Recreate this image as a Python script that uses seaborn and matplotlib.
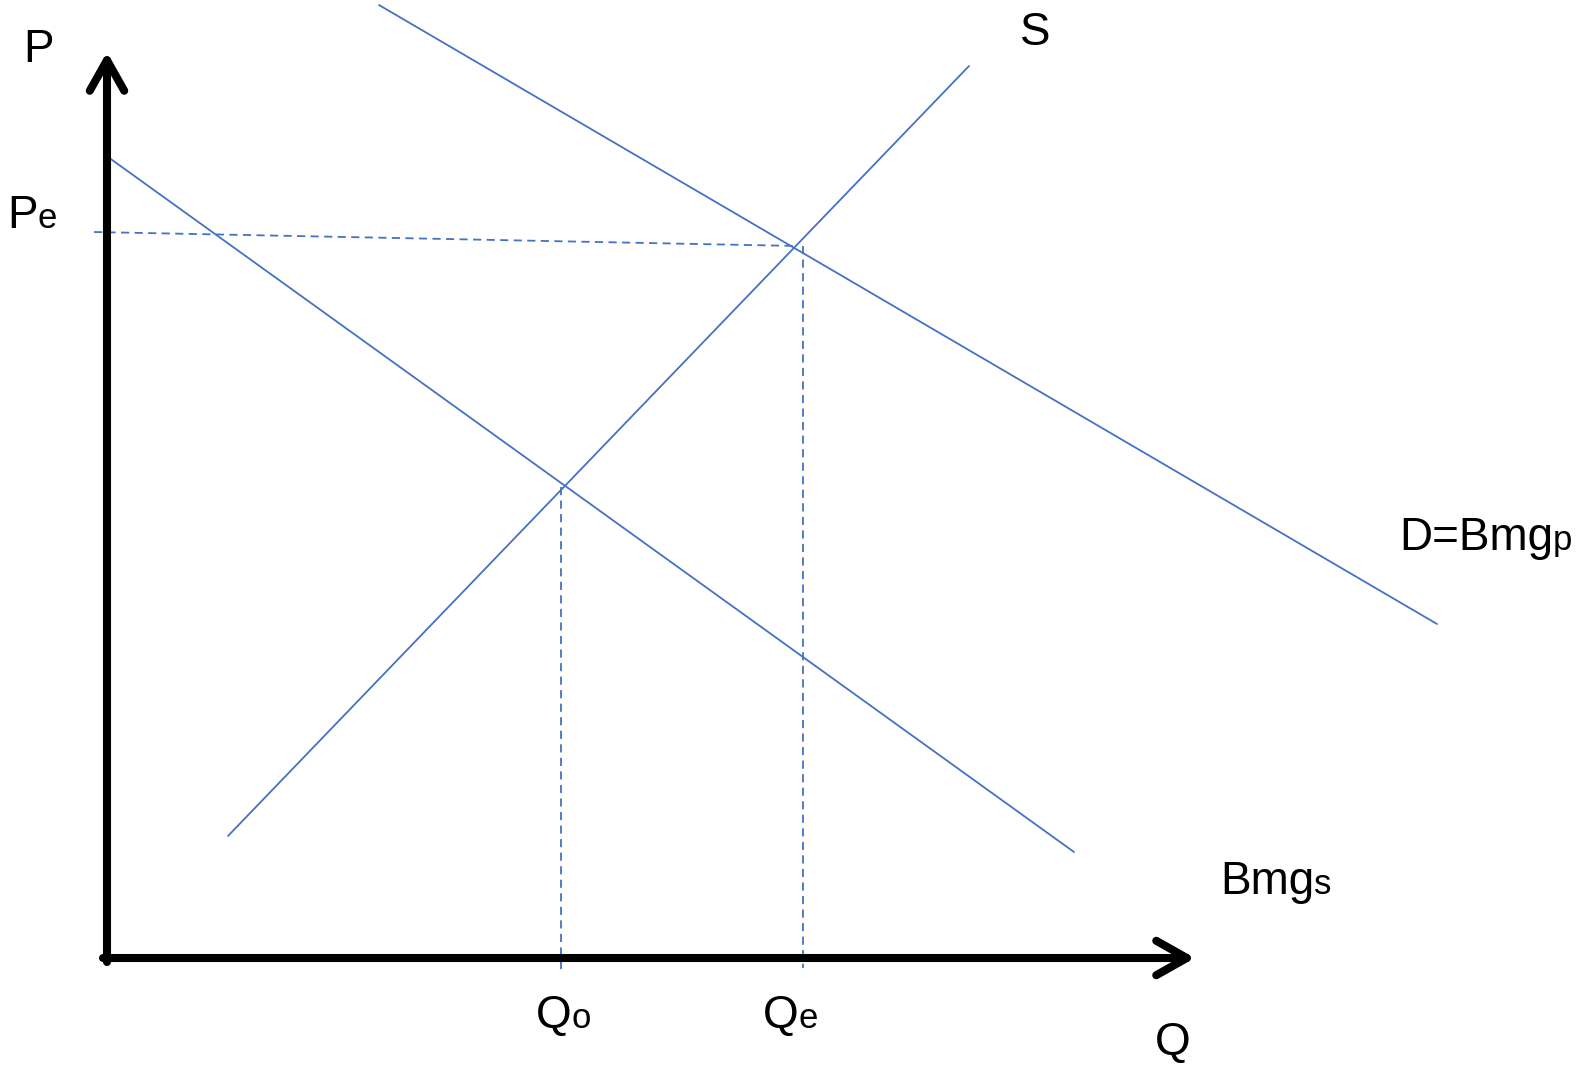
import matplotlib
matplotlib.use("Agg")
import matplotlib.pyplot as plt
import seaborn as sns
import pandas as pd

# curves (Q, P) endpoints, origin at the corner of the axes
curve_names = ["D", "D", "Bmg_s", "Bmg_s", "S", "S"]
curve_q = [272, 1330, 1, 967, 121, 862]
curve_p = [953, 334, 801, 106, 122, 892]

# guide lines for the equilibria
pe_q = [-13, 691]
pe_p = [726, 712]
qo_q = [454, 454]
qo_p = [471, -14]
qe_q = [696, 696]
qe_p = [712, -10]

# axis extent
q_max = 1088
p_max = 906

# labels: (main text, subscript, Q, P of baseline-left)
labels = [
    ("P", "", -84, 896),
    ("P", "e", -100, 730),
    ("S", "", 913, 913),
    ("D=Bmg", "p", 1292, 408),
    ("Bmg", "s", 1113, 64),
    ("Q", "", 1048, -97),
    ("Q", "o", 429, -70),
    ("Q", "e", 656, -70),
]

sns.set_style("white")
plt.rcParams["font.family"] = ["Liberation Sans", "DejaVu Sans"]
plt.rcParams["text.color"] = "black"

blue = "#4472C4"
fig = plt.figure(figsize=(15.84, 10.72), dpi=100)
ax = fig.add_axes([0, 0, 1, 1])

df = pd.DataFrame({"curve": curve_names, "Q": curve_q, "P": curve_p})
sns.lineplot(data=df, x="Q", y="P", units="curve", estimator=None,
             color=blue, linewidth=1.3, sort=False, ax=ax)

for xs, ys in [(pe_q, pe_p), (qo_q, qo_p), (qe_q, qe_p)]:
    ax.plot(xs, ys, color=blue, linewidth=1.3, linestyle=(0, (4.5, 3)))

# axes with open arrow heads
arrow = dict(arrowstyle="->,head_length=1.1,head_width=0.62", color="black",
             linewidth=5.8, capstyle="round", joinstyle="round",
             shrinkA=0, shrinkB=0, mutation_scale=20)
ax.annotate("", xy=(0, p_max), xytext=(0, -4), arrowprops=arrow)
ax.annotate("", xy=(q_max, 0), xytext=(-4, 0), arrowprops=arrow)

for main, sub, q, p in labels:
    t = ax.text(q, p, main, fontsize=33, ha="left", va="baseline", color="black")
    if sub:
        ax.annotate(sub, xy=(1, p), xycoords=(t, "data"), fontsize=25,
                    ha="left", va="baseline", color="black")

ax.set_xlim(-107, 1477)
ax.set_ylim(-114, 958)
ax.axis("off")

fig.savefig("out.png", dpi=100)
